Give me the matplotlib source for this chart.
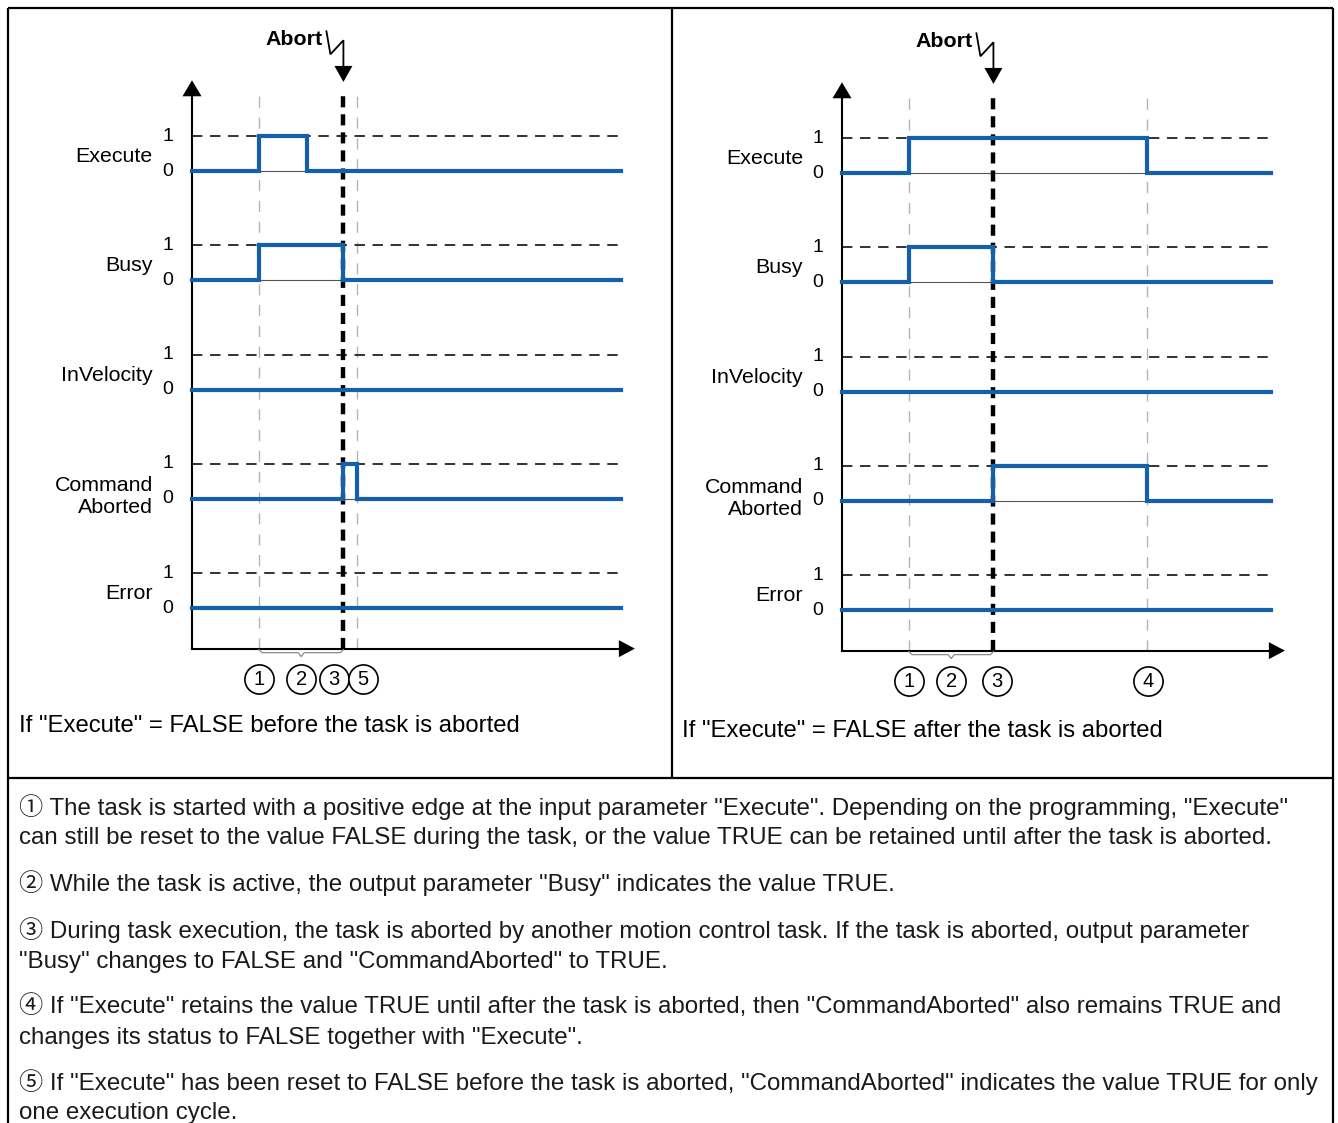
import matplotlib
matplotlib.use("Agg")
import matplotlib.pyplot as plt

W, H = 1338, 1123
BLUE = "#1560ab"
PX_T = 67.0      # pixels per time unit
PX_ROW = 109.3   # pixels per signal row
AMP = 35.0 / PX_ROW

plt.rcParams["lines.scale_dashes"] = False
FONT = ["Liberation Sans", "Noto Sans CJK JP", "DejaVu Sans"]
plt.rcParams["font.family"] = FONT

signals = ["Execute", "Busy", "InVelocity", "Command\nAborted", "Error"]
T_END = 6.40
T_ABORT = 2.26

# left panel: "Execute" reset before the abort
left_t = [[0, 1.00, 1.72], [0, 1.00, T_ABORT], [0], [0, T_ABORT, 2.46], [0]]
left_v = [[0, 1, 0], [0, 1, 0], [0], [0, 1, 0], [0]]
left_light = [1.00, 2.46]
left_mark_t = [1.00, 1.63, 2.12, 2.55]
left_mark_lbl = ["1", "2", "3", "5"]
left_caption = 'If "Execute" = FALSE before the task is aborted'

# right panel: "Execute" kept TRUE until after the abort
right_t = [[0, 1.00, 4.55], [0, 1.00, T_ABORT], [0], [0, T_ABORT, 4.55], [0]]
right_v = [[0, 1, 0], [0, 1, 0], [0], [0, 1, 0], [0]]
right_light = [1.00, 4.55]
right_mark_t = [1.00, 1.63, 2.31, 4.57]
right_mark_lbl = ["1", "2", "3", "4"]
right_caption = 'If "Execute" = FALSE after the task is aborted'

notes = [
    '\u2460 The task is started with a positive edge at the input parameter "Execute". Depending on the programming, "Execute"',
    'can still be reset to the value FALSE during the task, or the value TRUE can be retained until after the task is aborted.',
    '\u2461 While the task is active, the output parameter "Busy" indicates the value TRUE.',
    '\u2462 During task execution, the task is aborted by another motion control task. If the task is aborted, output parameter',
    '"Busy" changes to FALSE and "CommandAborted" to TRUE.',
    '\u2463 If "Execute" retains the value TRUE until after the task is aborted, then "CommandAborted" also remains TRUE and',
    'changes its status to FALSE together with "Execute".',
    '\u2464 If "Execute" has been reset to FALSE before the task is aborted, "CommandAborted" indicates the value TRUE for only',
    'one execution cycle.',
]
notes_y = [807, 838, 883, 930, 962, 1006, 1038, 1082, 1113]

fig = plt.figure(figsize=(W / 100, H / 100), dpi=100)
bg = fig.add_axes([0, 0, 1, 1])
bg.set_xlim(0, W)
bg.set_ylim(H, 0)
bg.axis("off")

# frame
fk = dict(color="black", lw=1.6, solid_capstyle="butt")
bg.plot([8, 1333], [8, 8], **fk)
bg.plot([8, 8], [8, H], **fk)
bg.plot([1333, 1333], [8, H], **fk)
bg.plot([672, 672], [8, 778], **fk)
bg.plot([8, 1333], [778, 778], **fk)

for txt, y in zip(notes, notes_y):
    bg.text(19, y, txt, fontsize=17.4, va="center", ha="left", color="#1a1a1a")


def draw_panel(x0, y0, wave_t, wave_v, light, mark_t, mark_lbl, caption, cap_xy):
    lpx, rpx = x0 - 190, x0 + 470
    tpx, bpx = y0 - 165, y0 + 540
    ax = fig.add_axes([lpx / W, 1 - bpx / H, (rpx - lpx) / W, (bpx - tpx) / H])
    ax.set_xlim((lpx - x0) / PX_T, (rpx - x0) / PX_T)
    ax.set_ylim((y0 - bpx) / PX_ROW, (y0 - tpx) / PX_ROW)
    ax.axis("off")

    def dx(p):
        return p / PX_T

    def dy(p):
        return p / PX_ROW

    y_axis_x = -4.37
    y_top = 0.71

    # light vertical guides
    for t in light:
        ax.plot([t, t], [y_axis_x, y_top], color="#b5b5b5", lw=1.0,
                dashes=(8, 7), zorder=1)
    # abort line
    ax.plot([T_ABORT, T_ABORT], [y_axis_x, y_top + dy(1)], color="black", lw=3.2,
            dashes=(8, 5), zorder=4)

    for k, name in enumerate(signals):
        base = -k
        ax.plot([0, T_END], [base + AMP, base + AMP], color="#222222", lw=1.3,
                dashes=(7.5, 5.5), zorder=2)
        ax.plot([0, T_END], [base, base], color="#555555", lw=0.8, zorder=2)
        t = list(wave_t[k]) + [T_END]
        v = [base + AMP * s for s in wave_v[k]] + [base + AMP * wave_v[k][-1]]
        ax.plot(t, v, drawstyle="steps-post", color=BLUE, lw=3.0,
                solid_joinstyle="miter", zorder=5)
        ax.text(-dx(24), base + AMP, "1", fontsize=14, ha="center", va="center")
        ax.text(-dx(24), base, "0", fontsize=14, ha="center", va="center")
        off = dy(15) if "\n" in name else dy(3)
        ax.text(-dx(39), base + AMP / 2 - off, name, fontsize=15.4, ha="right",
                va="center", linespacing=1.15)

    # axes with arrow heads
    ax.plot([0, 0], [y_axis_x, 0.83 - dy(14)], color="black", lw=1.5, zorder=3)
    ax.fill([0, -dx(9.5), dx(9.5)], [0.83, 0.83 - dy(16), 0.83 - dy(16)],
            color="black", lw=0, zorder=3)
    x_tip = 6.61
    ax.plot([0, x_tip - dx(14)], [y_axis_x, y_axis_x], color="black", lw=1.5, zorder=3)
    ax.fill([x_tip, x_tip - dx(16), x_tip - dx(16)],
            [y_axis_x, y_axis_x + dy(8.5), y_axis_x - dy(8.5)],
            color="black", lw=0, zorder=3)

    # abort lightning + arrow
    y_abort_txt = 1.205
    ax.plot([T_ABORT - dx(17), T_ABORT - dx(13), T_ABORT, T_ABORT],
            [y_abort_txt + dy(8), y_abort_txt - dy(15), y_abort_txt - dy(1), 0.815 + dy(13)],
            color="black", lw=1.3, solid_joinstyle="miter", zorder=4)
    ax.fill([T_ABORT, T_ABORT - dx(9), T_ABORT + dx(9)],
            [0.815, 0.815 + dy(16), 0.815 + dy(16)], color="black", lw=0, zorder=4)
    ax.text(T_ABORT - dx(21), y_abort_txt, "Abort", fontsize=15.4, fontweight="bold",
            ha="right", va="center")

    # brace under the x axis
    b0, b1 = mark_t[0], T_ABORT
    bm = (b0 + b1) / 2
    ya, yb, yc = y_axis_x - dy(1), y_axis_x - dy(4), y_axis_x - dy(8)
    ax.plot([b0, b0 + dx(3), bm - dx(3), bm, bm + dx(3), b1 - dx(3), b1],
            [ya, yb, yb, yc, yb, yb, ya], color="#8a8a8a", lw=0.9, zorder=3)

    # circled step numbers
    y_mark = -4.65
    for t, lbl in zip(mark_t, mark_lbl):
        ax.plot([t], [y_mark], marker="o", ms=21, mfc="white", mec="black",
                mew=1.2, zorder=6)
        ax.text(t, y_mark, lbl, fontsize=14.5, ha="center", va="center", zorder=7)

    bg.text(cap_xy[0], cap_xy[1], caption, fontsize=17.2, ha="left", va="center")
    return ax


draw_panel(192, 171, left_t, left_v, left_light, left_mark_t, left_mark_lbl,
           left_caption, (19, 726))
draw_panel(842, 173, right_t, right_v, right_light, right_mark_t, right_mark_lbl,
           right_caption, (682, 731))

fig.savefig("out.png", dpi=100)
